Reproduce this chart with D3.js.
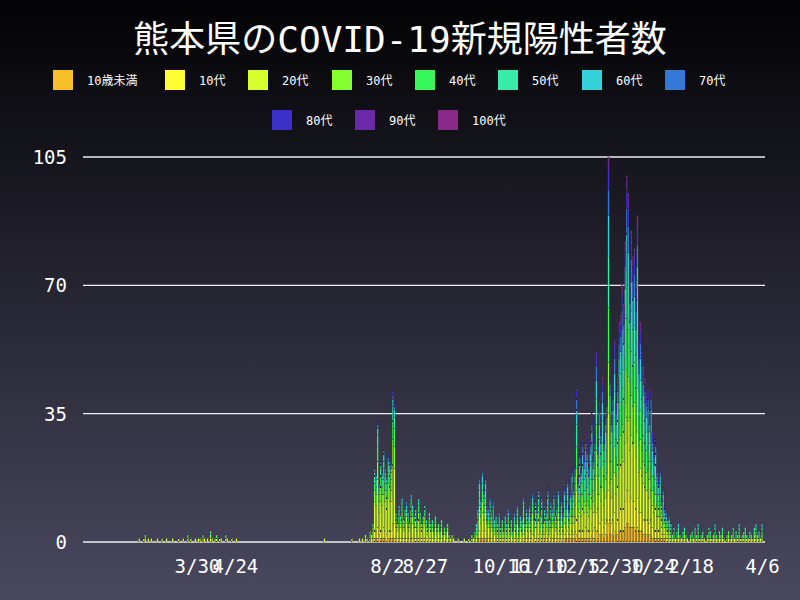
<!DOCTYPE html>
<html><head><meta charset="utf-8">
<script src="https://cdn.jsdelivr.net/npm/d3@7"></script>
<style>body{margin:0}svg{display:block}</style></head>
<body><svg id="c" width="800" height="600"></svg>
<script>
const title = "熊本県のCOVID-19新規陽性者数";
const ageGroups = ["10歳未満","10代","20代","30代","40代","50代","60代","70代","80代","90代","100代"];
const ageColors = ["#fbbf2a","#ffff33","#d7ff2e","#86ff2e","#37f85a","#3aeaa8","#36d0d8","#3578d8","#3b30c8","#6a2aa8","#8a2888"];
const startDate = "2020-02-21";
const tickDates = ["2020-03-30","2020-04-24","2020-08-02","2020-08-27","2020-10-16","2020-11-10","2020-12-05","2020-12-30","2021-01-24","2021-02-18","2021-04-06"];
const yTicks = [0,35,70,105];
// daily totals
const p1 = [1,0,0,1,2,0,1,0,1,0,0,0,1,0,0,1];
const p2 = [0,0,1,0,0,0,1,0,0,0,1,0,0,1,0,0,2,0,1,0,0,1,0,1];
const p3 = [1,0,2,1,0,1,0,3,1,0,1,2,0,1,1,0,0,2,1,0,0,1,0,0,1,0];
const p4 = [0,0,0,0,0,0,0,0,0,0,0,0,0,0,0,0,0,0,0,0,0,0,0,0,0,0,0,0,0,0,0,0,0,0,0,0,0,0,0,0,0,0,0,0,0,0,0,0,0,0,0,0,0,0,0,0,1,0,0,0,0,0,0,0,0,0,0,0,0,0,0,0,0,0,1,0,0,0,0];
const p5 = [1,0,1,0,2,1,0,3,2,5];
const p6 = [20,18,33,16,22,19,25,20,18,24,22,21,41,38];
const p7 = [8,5,10,7,12,6,9,11,8,5,13,10,7,9,6,12,8,5,7,10,6,4,8,5,6,3,7,4,5,3,6,2,4,3,5,2,1,2,1,0];
const p8 = [0,1,0,0,0,1,0,0,1,0,2,1,3,5];
const p9 = [10,17,12,19,15,18,10,9,12,8,11,6,7];
const p10 = [5,8,4,6,3,7,5,9,4,6,3,8,5,10,4,7,6,12,5,9,7];
const p11 = [10,8,13,6,11,9,14,7,12,5,10,8,15,6,11,9,13,7,10,14,8];
const p12 = [12,9,15,11,18,10,14,20,16,22,42,18,25,20,28,24,30,26,22,28,35,24,30];
const p13 = [52,28,38,32,45,30,35,40,105,48,35,42,55,38,45];
const p14 = [60,62,70,65,82,100,95,72,85,78,80,70,89,55,60,52,48,45,40,42];
const p15 = [35,42,30,25,28,21,18,20,12,15,10,8,6,7,5];
const p16 = [2,4,1,3,5,2,1,3,4,2,1,0,2,3,1,4,2,5,1,2,3,1,0,2,4,3,1,2,5,2,1,3,2,4,1,0,2,3,1,2,4,1,3,2,5,1,2,3,4,2,1,3,2,1,4,5,2,3,1,5];
const totals = [].concat(p1,p2,p3,p4,p5,p6,p7,p8,p9,p10,p11,p12,p13,p14,p15,p16);
// approximate age shares (percent) per wave
const shareEarly = [2,6,20,14,16,14,12,8,5,2,1];
const shareSummer = [3,10,38,16,12,9,6,3,2,1,0];
const shareAutumn = [4,9,28,14,14,11,9,6,3,2,0];
const shareWinter = [5,9,20,13,14,13,10,7,5,3,1];

const parse = d3.timeParse("%Y-%m-%d");
const t0 = parse(startDate);
const days = totals.map((v,i)=>d3.timeDay.offset(t0,i));
function shareFor(i){ if(i<145) return shareEarly; if(i<209) return shareSummer; if(i<278) return shareAutumn; return shareWinter; }
const rows = totals.map((tot,i)=>{
  const s = shareFor(i); const raw = s.map(p=>p*tot/100);
  const fl = raw.map(Math.floor); let rem = tot - d3.sum(fl);
  const order = raw.map((r,k)=>[r-fl[k]+((k*7+i*3)%11)*0.001,k]).sort((a,b)=>b[0]-a[0]);
  for(let j=0;j<rem;j++) fl[order[j%11][1]]++;
  const o = {date:days[i]}; ageGroups.forEach((g,k)=>o[g]=fl[k]); return o;
});

const svg = d3.select("#c");
const defs = svg.append("defs");
const lg = defs.append("linearGradient").attr("id","bg").attr("x1",0).attr("y1",0).attr("x2",0).attr("y2",1);
lg.append("stop").attr("offset","0%").attr("stop-color","#030305");
lg.append("stop").attr("offset","100%").attr("stop-color","#4a4860");
svg.append("rect").attr("width",800).attr("height",600).attr("fill","url(#bg)");

svg.append("text").attr("x",400).attr("y",52).attr("text-anchor","middle").attr("fill","#fff")
  .attr("font-family","'DejaVu Sans Mono','Noto Sans CJK JP'").attr("font-size",36).text(title);

const legendBoxX = [53,165,248,332,415,498,582,665,272,355,438];
ageGroups.forEach((g,i)=>{
  const x=legendBoxX[i], y = i<8?80:120;
  svg.append("rect").attr("x",x).attr("y",y-10).attr("width",20).attr("height",20).attr("fill",ageColors[i]);
  svg.append("text").attr("x",x+34).attr("y",y+5).attr("fill","#fff").attr("font-size",12)
    .attr("font-family","'DejaVu Sans Mono','Noto Sans CJK JP'").text(g);
});

const x = d3.scaleTime().domain([parse("2020-01-15"), parse("2021-04-08")]).range([83,765]);
const y = d3.scaleLinear().domain([0,105]).range([542,157]);

const g = svg.append("g");
yTicks.forEach(t=>{
  g.append("line").attr("x1",83).attr("x2",765).attr("y1",y(t)).attr("y2",y(t)).attr("stroke","#eee").attr("stroke-width",1.3);
  g.append("text").attr("x",67).attr("y",y(t)+7).attr("text-anchor","end").attr("fill","#fff")
   .attr("font-size",19).attr("font-family","'DejaVu Sans Mono'").text(t);
});

const stack = d3.stack().keys(ageGroups)(rows);
const bw = x(d3.timeDay.offset(t0,1))-x(t0);
stack.forEach((layer,k)=>{
  g.append("g").attr("fill",ageColors[k]).selectAll("rect").data(layer.filter(d=>d[1]>d[0])).join("rect")
   .attr("x",d=>x(d.data.date)-bw/2).attr("width",bw)
   .attr("y",d=>y(d[1])).attr("height",d=>y(d[0])-y(d[1]))
   .attr("stroke","#222").attr("stroke-width",0.25);
});

const xa = svg.append("g").attr("transform","translate(0,542)")
  .call(d3.axisBottom(x).tickValues(tickDates.map(parse)).tickFormat(d3.timeFormat("%-m/%-d")).tickSize(0).tickPadding(18));
xa.select(".domain").remove();
xa.selectAll("text").attr("fill","#fff").attr("font-size",19).attr("font-family","'DejaVu Sans Mono'");
</script></body></html>
